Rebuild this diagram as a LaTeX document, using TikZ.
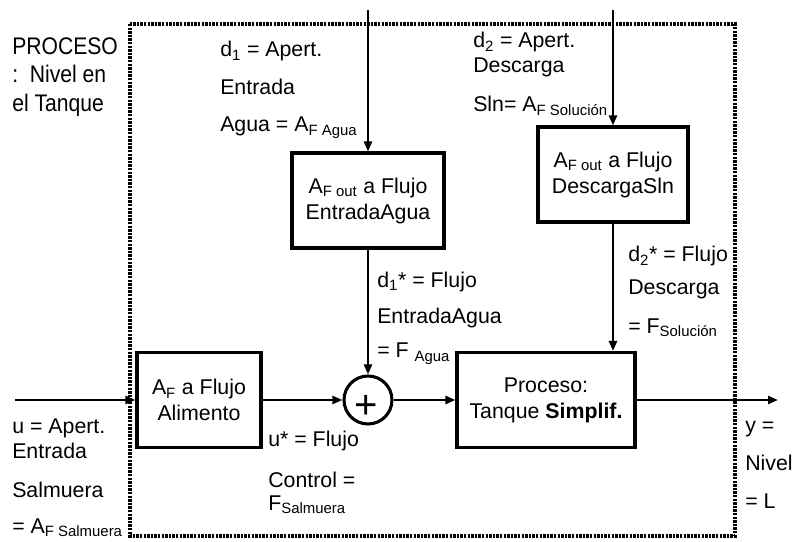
\documentclass[tikz,border=0pt]{standalone}
\usepackage{fontspec}
\setmainfont{Liberation Sans}
\newfontfamily\narrowfont[FakeStretch=0.88]{Liberation Sans}
\usetikzlibrary{arrows.meta}
\begin{document}
\begin{tikzpicture}[x=0.75pt,y=-0.75pt,
  lbl/.style={anchor=base west,inner sep=0pt,font=\fontsize{16}{19.5}\selectfont},
  biglbl/.style={anchor=base west,inner sep=0pt,font=\narrowfont\fontsize{18}{20}\selectfont},
  blk/.style={draw,line width=2.3pt,minimum height=71.25pt,align=center,inner sep=0pt,font=\fontsize{16}{19.5}\selectfont},
  conn/.style={line width=2pt,-{Triangle[length=7.5pt,width=6pt]}},
  frame/.style={line width=2.4pt,dash pattern=on 1.8pt off 0.9pt}]
\useasboundingbox (0,0) rectangle (794,542);
\draw[frame] (130,24) rectangle (735,536);

% blocks
\node[blk,minimum width=114pt] (b1) at (368,200.5) {A\textsubscript{F out} a Flujo\\EntradaAgua};
\node[blk,minimum width=112.5pt] (b2) at (613,174.5) {A\textsubscript{F out} a Flujo\\DescargaSln};
\node[blk,minimum width=93pt] (alim) at (199,400) {A\textsubscript{F} a Flujo\\Alimento};
\node[blk,minimum width=133.5pt] (proc) at (546,400) {Proceso:\\Tanque \textbf{Simplif.}};
\node[draw,circle,line width=2.3pt,minimum size=36pt,inner sep=0pt] (sum) at (368,400) {};
\node[font=\fontsize{30}{30}\selectfont,inner sep=0pt] (plus) at (366,407) {+};

% connectors
\coordinate (in) at (15,400);
\coordinate (out) at (778,400);
\coordinate (top1) at (368,10);
\coordinate (top2) at (613,10);
\draw[conn] (in) -- (alim.west);
\draw[conn] (alim.east) -- (sum.west);
\draw[conn] (sum.east) -- (proc.west);
\draw[conn] (proc.east) -- (out);
\draw[conn] (top1) -- (b1.north);
\draw[conn] (b1.south) -- (sum.north);
\draw[conn] (top2) -- (b2.north);
\draw[conn] (b2.south) -- (b2.south |- proc.north);

% labels
\node[biglbl] (p1) at (12,55) {PROCESO};
\node[biglbl] (p2) at (12,83) {:\ \ Nivel en};
\node[biglbl] (p3) at (12,112) {el Tanque};

\node[lbl] (a1) at (220,57) {d\textsubscript{1} = Apert.};
\node[lbl] (a2) at (220,95) {Entrada};
\node[lbl] (a3) at (220,132) {Agua = A\textsubscript{F Agua}};

\node[lbl] (c1) at (473,48) {d\textsubscript{2} = Apert.};
\node[lbl] (c2) at (473,73) {Descarga};
\node[lbl] (c3) at (473,112) {Sln= A\textsubscript{F Solución}};

\node[lbl] (e1) at (377,287) {d\textsubscript{1}* = Flujo};
\node[lbl] (e2) at (377,323) {EntradaAgua};
\node[lbl] (e3) at (377,358) {= F \textsubscript{Agua}};

\node[lbl] (f1) at (628,262) {d\textsubscript{2}* = Flujo};
\node[lbl] (f2) at (628,295) {Descarga};
\node[lbl] (f3) at (628,333) {= F\textsubscript{Solución}};

\node[lbl] (g1) at (268,446) {u* = Flujo};
\node[lbl] (g2) at (268,487) {Control =};
\node[lbl] (g3) at (268,510) {F\textsubscript{Salmuera}};

\node[lbl] (h1) at (12,433) {u = Apert.};
\node[lbl] (h2) at (12,458) {Entrada};
\node[lbl] (h3) at (12,497) {Salmuera};
\node[lbl] (h4) at (12,533) {= A\textsubscript{F Salmuera}};

\node[lbl] (k1) at (745,432) {y =};
\node[lbl] (k2) at (745,470) {Nivel};
\node[lbl] (k3) at (745,508) {= L};
\end{tikzpicture}
\end{document}
